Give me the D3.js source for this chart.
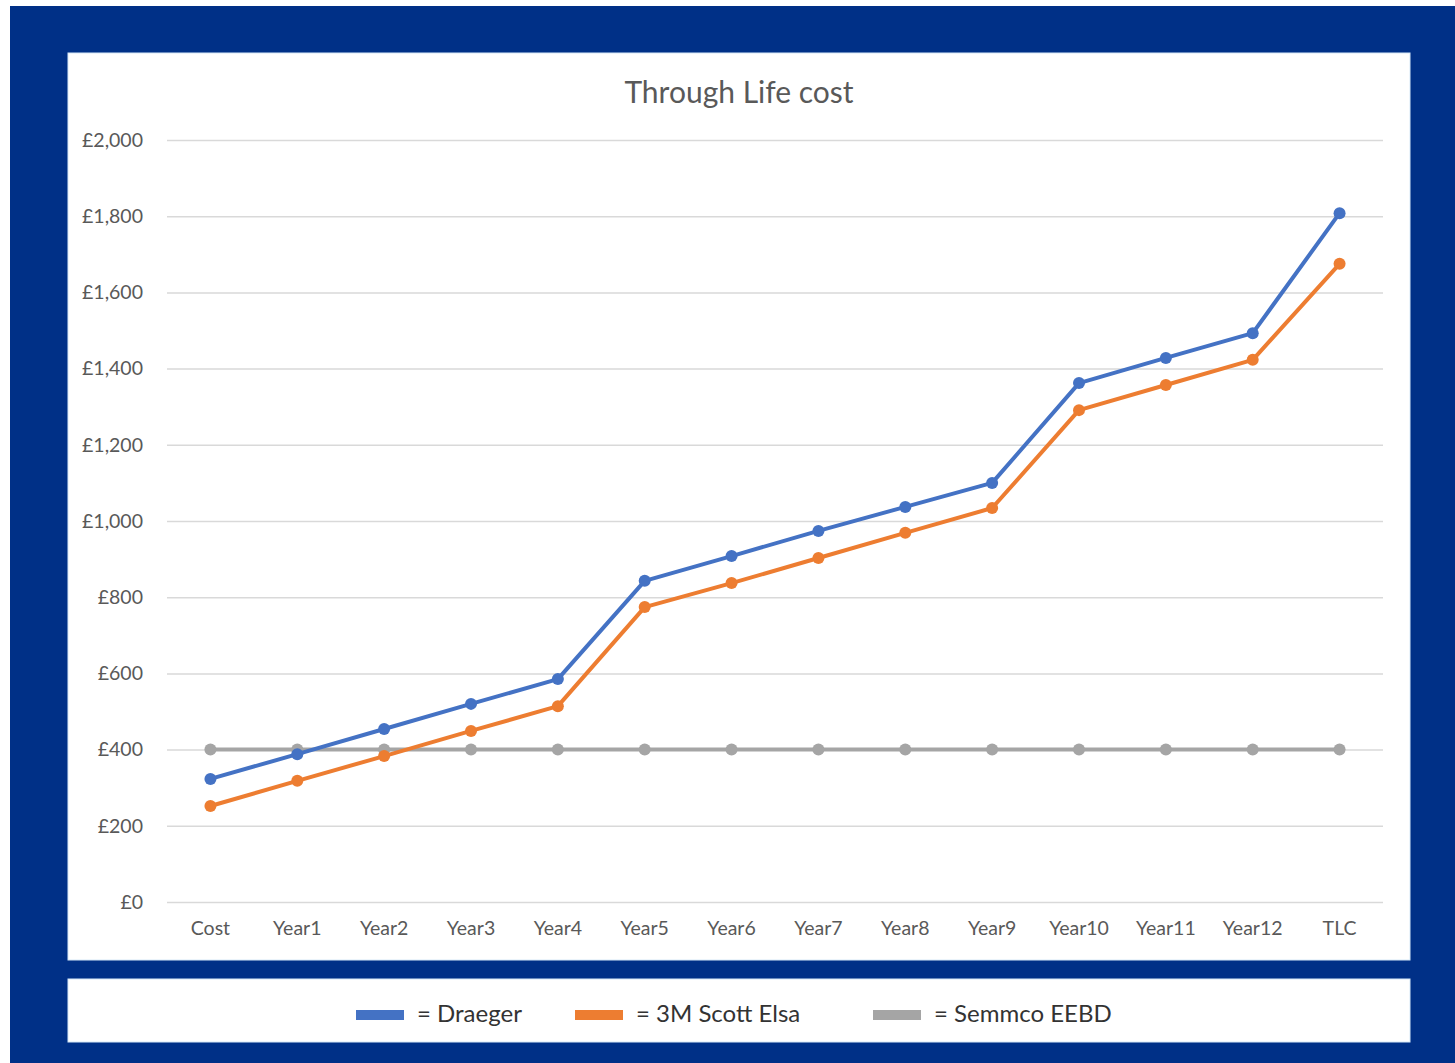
<!DOCTYPE html>
<meta charset="utf-8">
<style>
body{ margin:0; background:#fff; font-family: Lato, "Open Sans", sans-serif; }
svg{ display:block; }
.tick text{ fill:#595959; font-size:19.5px; font-family: Lato, "Open Sans", sans-serif; }
</style>
<svg id="chart" width="1455" height="1063"></svg>
<script src="https://cdn.jsdelivr.net/npm/d3@7"></script>
<script>

var categories = ['Cost','Year1','Year2','Year3','Year4','Year5','Year6','Year7','Year8','Year9','Year10','Year11','Year12','TLC']
var draeger = [323, 388, 454, 520, 585, 843, 908, 974, 1037, 1100, 1362, 1428, 1493, 1808]
var scottElsa = [252, 318, 383, 449, 514, 774, 837, 903, 969, 1034, 1291, 1357, 1423, 1675]
var semmco = [400, 400, 400, 400, 400, 400, 400, 400, 400, 400, 400, 400, 400, 400]
var yTicks = [0, 200, 400, 600, 800, 1000, 1200, 1400, 1600, 1800, 2000]
var seriesNames = ['= Draeger', '= 3M Scott Elsa', '= Semmco EEBD']
var colors = ['#4472c4', '#ed7d31', '#a5a5a5']

var svg = d3.select('#chart')

// blue frame + white panels
svg.append('rect').attr('x', 10).attr('y', 6).attr('width', 1445).attr('height', 1057).style('fill', '#003087')
svg.append('rect').attr('x', 68).attr('y', 53).attr('width', 1342).attr('height', 907)
    .style('fill', '#fff').style('stroke', '#d6e8f7').style('stroke-width', 1)
svg.append('rect').attr('x', 68).attr('y', 979).attr('width', 1342).attr('height', 63)
    .style('fill', '#fff').style('stroke', '#d6e8f7').style('stroke-width', 1)

var x = d3.scaleBand().domain(categories).range([167, 1383])
var y = d3.scaleLinear().domain([0, 2000]).range([902, 140])

svg.append('text')
    .attr('x', 739).attr('y', 103)
    .attr('text-anchor', 'middle')
    .style('font-size', '30px').style('fill', '#595959')
    .text('Through Life cost')

// y gridlines + labels
var yAxis = svg.append('g')
    .attr('transform', 'translate(167,0)')
    .call(d3.axisLeft(y).tickValues(yTicks).tickSize(-1216).tickPadding(24)
      .tickFormat(function(d){ return '£' + d3.format(',')(d) }))
yAxis.select('.domain').remove()
yAxis.selectAll('.tick line').style('stroke', '#d9d9d9').style('stroke-width', 1.5)

var xAxis = svg.append('g')
    .attr('transform', 'translate(0,902)')
    .call(d3.axisBottom(x).tickSize(0).tickPadding(19))
xAxis.select('.domain').remove()

var line = d3.line()
    .x(function(d, i){ return x(categories[i]) + x.bandwidth() / 2 })
    .y(function(d){ return y(d) })

var series = [draeger, scottElsa, semmco]
// grey first so the others sit on top where they cross
var order = [2, 1, 0]
order.forEach(function(k){
  var g = svg.append('g')
  g.append('path').datum(series[k])
      .attr('d', line)
      .style('fill', 'none').style('stroke', colors[k]).style('stroke-width', 4)
      .style('stroke-linejoin', 'round')
  g.selectAll('circle').data(series[k]).enter().append('circle')
      .attr('cx', function(d, i){ return x(categories[i]) + x.bandwidth() / 2 })
      .attr('cy', function(d){ return y(d) })
      .attr('r', 6)
      .style('fill', colors[k])
})

// legend
var legendX = [356, 575, 873]
var legend = svg.selectAll('.legend').data(seriesNames).enter().append('g')
    .attr('class', 'legend')
    .attr('transform', function(d, i){ return 'translate(' + legendX[i] + ',1015)' })
legend.append('rect')
    .attr('x', 0).attr('y', -5).attr('width', 48).attr('height', 10)
    .style('fill', function(d, i){ return colors[i] })
legend.append('text')
    .attr('x', 61).attr('y', 7)
    .style('font-size', '24px').style('fill', '#333')
    .text(function(d){ return d })

</script>
